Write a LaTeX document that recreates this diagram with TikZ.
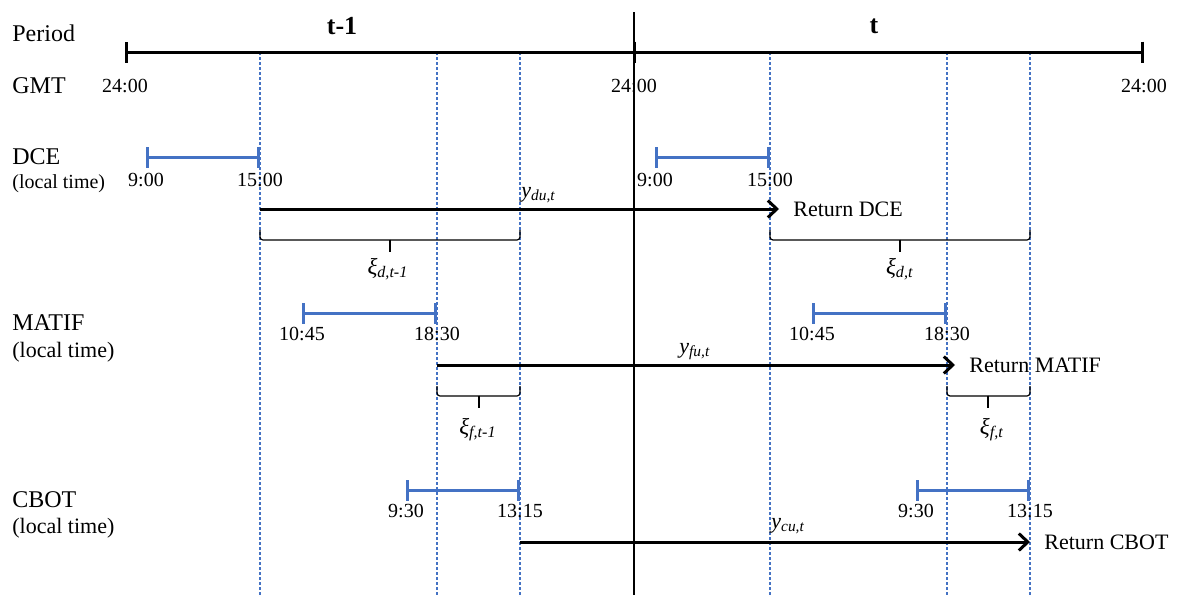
\documentclass[tikz,border=0pt]{standalone}
\usepackage{fontspec}
\setmainfont{Liberation Serif}
\usetikzlibrary{positioning, arrows.meta}
\definecolor{sessblue}{RGB}{68,114,196}

\begin{document}
\begin{tikzpicture}[
  x=0.5pt, y=-0.5pt,
  rowname/.style={anchor=base west, inner sep=0pt, font=\fontsize{12}{14}\selectfont},
  localnote/.style={anchor=base west, inner sep=0pt, font=\fontsize{11}{13}\selectfont},
  clock/.style={inner sep=0pt, font=\fontsize{10}{12}\selectfont},
  periodname/.style={inner sep=0pt, font=\fontsize{13}{15}\selectfont\bfseries},
  retname/.style={inner sep=0pt, font=\fontsize{11}{13}\selectfont},
  varname/.style={anchor=base west, inner sep=0pt, font=\fontsize{11}{13}\selectfont},
  gapname/.style={anchor=base, inner sep=0pt, font=\fontsize{11.5}{13}\selectfont},
  session/.style={sessblue, line width=1.5pt, {Bar[width=10.5pt]}-{Bar[width=10.5pt]}},
  guide/.style={sessblue, line width=0.75pt, dash pattern=on 1.5pt off 1pt},
  retarrow/.style={-{Straight Barb[length=4.5pt, width=8.5pt, line width=1.5pt]}, line width=1.5pt},
  gap/.style={line width=0.6pt, rounded corners=1.5pt},
  gaptip/.style={line width=1pt}
]
  \useasboundingbox (0,0) rectangle (1179,595);

  % GMT axis and day boundary
  \coordinate (ax0) at (125,52);
  \coordinate (axm) at (634,52);
  \coordinate (ax1) at (1144,52);
  \coordinate (vtop) at (634,12);
  \coordinate (vbot) at (634,595);

  % closing times, carried down the page
  \coordinate (g1) at (260,52);
  \coordinate (g2) at (437,52);
  \coordinate (g3) at (520,52);
  \coordinate (g4) at (770,52);
  \coordinate (g5) at (947,52);
  \coordinate (g6) at (1030,52);
  \draw[guide] (g1) -- (g1 |- vbot);
  \draw[guide] (g2) -- (g2 |- vbot);
  \draw[guide] (g3) -- (g3 |- vbot);
  \draw[guide] (g4) -- (g4 |- vbot);
  \draw[guide] (g5) -- (g5 |- vbot);
  \draw[guide] (g6) -- (g6 |- vbot);

  \draw[line width=1pt] (vtop) -- (vbot);
  \draw[line width=1.5pt, {Bar[width=10.5pt]}-{Bar[width=10.5pt]}] (ax0) -- (ax1);
  \draw[line width=1.5pt] ([yshift=5.25pt]axm) -- ([yshift=-5.25pt]axm);

  \node[periodname] (tprev) at (342,26) {t-1};
  \node[periodname] (tcur) at (874,26) {t};

  \node[rowname] (period) at (12,41) {Period};
  \node[rowname] (gmt) at (12,93) {GMT};
  \node[clock, below=13.5pt of ax0] (gmt0) {24:00};
  \node[clock, below=13.5pt of axm] (gmt1) {24:00};
  \node[clock, below=13.5pt of ax1] (gmt2) {24:00};

  % DCE
  \node[rowname] (dce) at (12,164) {DCE};
  \node[localnote, font=\fontsize{10}{12}\selectfont] (dcelt) at (12,188) {(local time)};
  \coordinate (dceA0) at (146,157);
  \coordinate (dceA1) at (260,157);
  \coordinate (dceB0) at (655,157);
  \coordinate (dceB1) at (770,157);
  \draw[session] (dceA0) -- (dceA1);
  \draw[session] (dceB0) -- (dceB1);
  \node[clock, below=8pt of dceA0] (dceA0t) {9:00};
  \node[clock, below=8pt of dceA1] (dceA1t) {15:00};
  \node[clock, below=8pt of dceB0] (dceB0t) {9:00};
  \node[clock, below=8pt of dceB1] (dceB1t) {15:00};

  \coordinate (du0) at (260,209);
  \coordinate (du1) at (779,209);
  \draw[retarrow] (du0) -- (du1);
  \node[retname, right=7pt of du1] (retdce) {Return DCE};
  \node[varname] (ydu) at (521,197) {\textit{y}\textsubscript{\textit{du,t}}};

  \coordinate (xdA0) at (260,230);
  \coordinate (xdA1) at (520,230);
  \coordinate (xdAm) at (390,240);
  \draw[gap] (xdA0) |- (xdAm);
  \draw[gap] (xdA1) |- (xdAm);
  \draw[gaptip] (xdAm) -- ++(0,12);
  \node[gapname] (xidA) at (388,274) {\textit{ξ}\textsubscript{\textit{d,t-1}}};
  \coordinate (xdB0) at (770,230);
  \coordinate (xdB1) at (1030,230);
  \coordinate (xdBm) at (900,240);
  \draw[gap] (xdB0) |- (xdBm);
  \draw[gap] (xdB1) |- (xdBm);
  \draw[gaptip] (xdBm) -- ++(0,12);
  \node[gapname] (xidB) at (900,274) {\textit{ξ}\textsubscript{\textit{d,t}}};

  % MATIF
  \node[rowname] (matif) at (12,330) {MATIF};
  \node[localnote] (matiflt) at (12,357) {(local time)};
  \coordinate (matA0) at (302,313);
  \coordinate (matA1) at (437,313);
  \coordinate (matB0) at (812,313);
  \coordinate (matB1) at (947,313);
  \draw[session] (matA0) -- (matA1);
  \draw[session] (matB0) -- (matB1);
  \node[clock, below=7pt of matA0] (matA0t) {10:45};
  \node[clock, below=7pt of matA1] (matA1t) {18:30};
  \node[clock, below=7pt of matB0] (matB0t) {10:45};
  \node[clock, below=7pt of matB1] (matB1t) {18:30};

  \coordinate (fu0) at (437,365);
  \coordinate (fu1) at (955,365);
  \draw[retarrow] (fu0) -- (fu1);
  \node[retname, right=7pt of fu1] (retmat) {Return MATIF};
  \node[varname] (yfu) at (679,353) {\textit{y}\textsubscript{\textit{fu,t}}};

  \coordinate (xfA0) at (437,386);
  \coordinate (xfA1) at (520,386);
  \coordinate (xfAm) at (479,396);
  \draw[gap] (xfA0) |- (xfAm);
  \draw[gap] (xfA1) |- (xfAm);
  \draw[gaptip] (xfAm) -- ++(0,12);
  \node[gapname] (xifA) at (478,434) {\textit{ξ}\textsubscript{\textit{f,t-1}}};
  \coordinate (xfB0) at (947,386);
  \coordinate (xfB1) at (1030,386);
  \coordinate (xfBm) at (988,396);
  \draw[gap] (xfB0) |- (xfBm);
  \draw[gap] (xfB1) |- (xfBm);
  \draw[gaptip] (xfBm) -- ++(0,12);
  \node[gapname] (xifB) at (992,434) {\textit{ξ}\textsubscript{\textit{f,t}}};

  % CBOT
  \node[rowname] (cbot) at (12,507) {CBOT};
  \node[localnote] (cbotlt) at (12,533) {(local time)};
  \coordinate (cbA0) at (406,490);
  \coordinate (cbA1) at (520,490);
  \coordinate (cbB0) at (916,490);
  \coordinate (cbB1) at (1030,490);
  \draw[session] (cbA0) -- (cbA1);
  \draw[session] (cbB0) -- (cbB1);
  \node[clock, below=7pt of cbA0] (cbA0t) {9:30};
  \node[clock, below=7pt of cbA1] (cbA1t) {13:15};
  \node[clock, below=7pt of cbB0] (cbB0t) {9:30};
  \node[clock, below=7pt of cbB1] (cbB1t) {13:15};

  \coordinate (cu0) at (520,542);
  \coordinate (cu1) at (1030,542);
  \draw[retarrow] (cu0) -- (cu1);
  \node[retname, right=7pt of cu1] (retcbot) {Return CBOT};
  \node[varname] (ycu) at (771,528) {\textit{y}\textsubscript{\textit{cu,t}}};
\end{tikzpicture}
\end{document}
